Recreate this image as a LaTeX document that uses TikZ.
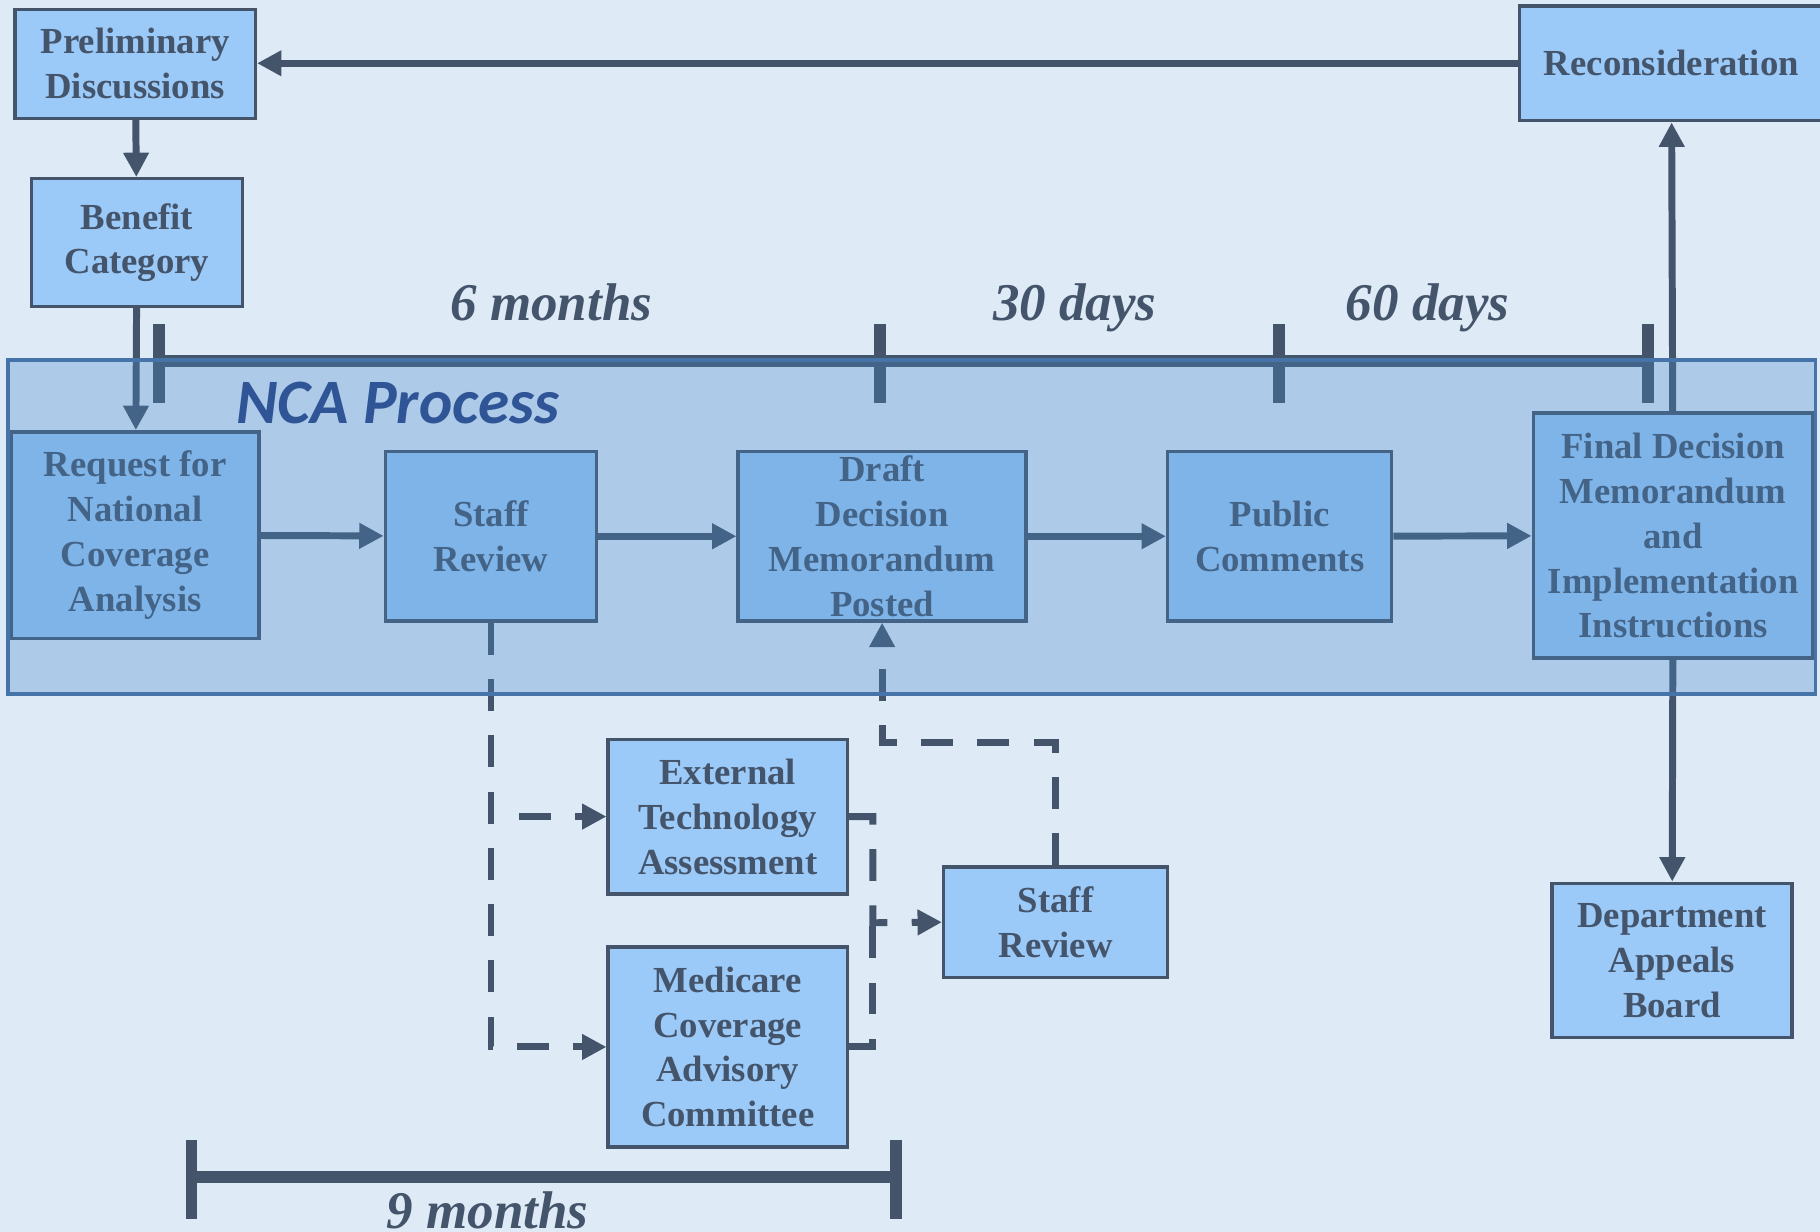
\documentclass[tikz,border=0pt]{standalone}
\usepackage{fontspec}
\setmainfont{Liberation Serif}
\newfontfamily\ncafont{Carlito}
\usetikzlibrary{arrows.meta}
\definecolor{bgblue}{RGB}{222,235,247}
\definecolor{boxblue}{RGB}{155,201,248}
\definecolor{slate}{RGB}{68,84,106}
\definecolor{ncafill}{RGB}{67,134,201}
\definecolor{ncaline}{RGB}{70,115,168}
\definecolor{ncatext}{RGB}{47,85,151}
\begin{document}
\begin{tikzpicture}[x=0.1mm, y=-0.1mm,
		box/.style={draw=slate, line width=0.3mm, fill=boxblue, text=slate, align=center, inner sep=0pt, font=\fontsize{9}{11}\selectfont\bfseries},
		flow/.style={draw=slate, line width=0.6mm, -{Triangle[length=2.1mm,width=2.1mm]}},
		dashflow/.style={flow, dash pattern=on 2.75mm off 2.1mm},
		bar/.style={draw=slate, line width=1mm},
		span/.style={text=slate, anchor=base, font=\fontsize{13}{15}\selectfont\bfseries\itshape}]
		\fill[bgblue] (0,0) rectangle (1568,1061);
		\useasboundingbox (0,0) rectangle (1568,1061);
		\draw[bar] (137,311) -- (1420,311);
		\foreach \x in {137,758,1102,1420} \draw[bar] (\x,279) -- (\x,347);
		\node[span] (sixm) at (475,276) {6 months};
		\node[span] (thirtyd) at (926,276) {30 days};
		\node[span] (sixtyd) at (1230,276) {60 days};
		\draw[bar] (165,1014) -- (772,1014);
		\foreach \x in {165,772} \draw[bar] (\x,982) -- (\x,1050);
		\node[span] (ninem) at (420,1058) {9 months};
		\node[box, minimum width=20.7mm, minimum height=9.4mm] (prelim) at (116.5,55) {Preliminary\\Discussions};
		\node[box, minimum width=18.2mm, minimum height=11mm] (benefit) at (118,209) {Benefit\\Category};
		\node[box, minimum width=26.2mm, minimum height=9.9mm] (recons) at (1440,54.5) {Reconsideration};
		\node[box, minimum width=21.3mm, minimum height=17.8mm] (request) at (116.5,461) {Request for\\National\\Coverage\\Analysis};
		\node[box, minimum width=18.2mm, minimum height=14.6mm] (staffA) at (423,462) {Staff\\Review};
		\node[box, minimum width=24.8mm, minimum height=14.6mm] (draft) at (760,462) {Draft\\Decision\\Memorandum\\Posted};
		\node[box, minimum width=19.3mm, minimum height=14.6mm] (public) at (1102.5,462) {Public\\Comments};
		\node[box, minimum width=24.1mm, minimum height=21.1mm] (final) at (1441.5,461.5) {Final Decision\\Memorandum\\and\\Implementation\\Instructions};
		\node[box, minimum width=20.6mm, minimum height=13.3mm] (eta) at (627,703.5) {External\\Technology\\Assessment};
		\node[box, minimum width=20.6mm, minimum height=17.2mm] (mcac) at (627,902) {Medicare\\Coverage\\Advisory\\Committee};
		\node[box, minimum width=19.3mm, minimum height=9.5mm] (staffB) at (909.5,794.5) {Staff\\Review};
		\node[box, minimum width=20.7mm, minimum height=13.3mm] (dab) at (1440.5,827.5) {Department\\Appeals\\Board};
		\draw[flow] (recons.west) -- (prelim.east |- recons.west);
		\draw[flow] (prelim) -- (benefit);
		\draw[flow] (benefit) -- (request);
		\draw[flow] (request) -- (staffA);
		\draw[flow] (staffA) -- (draft);
		\draw[flow] (draft) -- (public);
		\draw[flow] (public) -- (final);
		\draw[flow] (final) -- (recons);
		\draw[flow] (final) -- (dab);
		\coordinate (merge) at (752,795);
		\coordinate (bend) at (909.5,640);
		\draw[dashflow] (staffA.south) |- (mcac.west);
		\draw[dashflow] ([xshift=2.4mm]staffA.south |- eta.west) -- (eta.west);
		\draw[dashflow] (eta.east) -| (merge) -- (staffB.west);
		\draw[dashflow, -] (mcac.east) -| (merge);
		\draw[dashflow] (staffB.north) -- (bend) -| (draft.south);
		\fill[ncafill, fill opacity=0.31] (7,310) rectangle (1564,598);
		\draw[ncaline, line width=0.3mm] (7,310) rectangle (1564,598);
		\node[anchor=base west, inner sep=0pt, text=ncatext, font=\ncafont\fontsize{15.5}{18}\selectfont\bfseries\itshape] (ncatitle) at (203,365) {NCA Process};
	\end{tikzpicture}
\end{document}
